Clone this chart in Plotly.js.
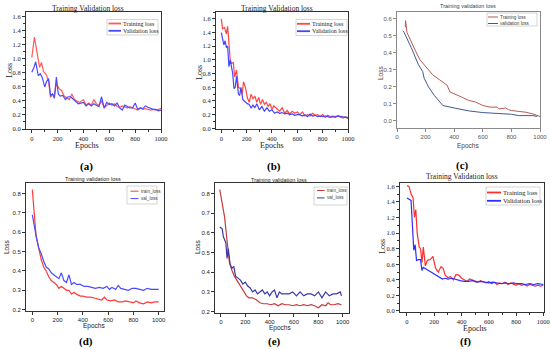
<!DOCTYPE html>
<html><head><meta charset="utf-8">
<script src="https://cdn.plot.ly/plotly-3.0.1.min.js"></script>
<style>html,body{margin:0;padding:0;background:#fff}#c{width:550px;height:350px}</style>
</head><body><div id="c"></div>
<script>
// ---- panel (a)
const aTrainX = [0,20,40,60,75,90,110,130,145,160,175,190,210,230,250,270,290,310,330,350,370,400,420,440,460,480,500,520,540,560,580,600,620,640,660,680,700,720,740,760,780,800,820,840,860,880,900,920,940,960,980,1000];
const aTrain  = [1.02,1.31,1.1,0.88,0.95,0.82,0.78,0.68,0.45,0.5,0.48,0.65,0.58,0.55,0.47,0.45,0.42,0.5,0.42,0.4,0.38,0.42,0.34,0.37,0.34,0.42,0.36,0.34,0.4,0.3,0.34,0.37,0.34,0.36,0.32,0.31,0.33,0.32,0.3,0.32,0.3,0.29,0.27,0.3,0.28,0.29,0.28,0.27,0.28,0.27,0.28,0.29];
const aValX   = [0,15,30,50,65,80,100,115,130,145,160,175,190,205,220,240,260,280,300,320,340,360,380,400,420,440,460,480,500,520,540,560,580,600,620,640,660,680,700,720,740,760,780,800,820,840,860,880,900,920,940,960,980,1000];
const aVal    = [0.81,0.87,0.96,0.76,0.79,0.74,0.6,0.68,0.72,0.48,0.5,0.44,0.74,0.5,0.47,0.48,0.42,0.46,0.46,0.43,0.39,0.36,0.37,0.38,0.33,0.36,0.33,0.36,0.34,0.32,0.46,0.3,0.38,0.35,0.36,0.33,0.37,0.3,0.27,0.34,0.32,0.3,0.3,0.37,0.28,0.3,0.29,0.33,0.31,0.29,0.28,0.28,0.26,0.27];
// ---- panel (b)
const bTrainX = [0,10,25,40,50,60,70,80,95,105,120,135,150,165,175,190,205,220,235,250,265,280,295,310,325,340,355,370,385,400,415,430,445,460,480,500,520,540,560,580,600,620,640,660,680,700,720,740,760,780,800,820,840,860,880,900,920,940,960,980,1000];
const bTrain  = [1.6,1.45,1.48,1.38,1.49,1.3,1.0,0.95,0.96,0.75,0.85,0.6,0.58,0.5,0.68,0.6,0.45,0.38,0.5,0.43,0.47,0.38,0.45,0.35,0.42,0.35,0.38,0.32,0.36,0.28,0.33,0.3,0.27,0.25,0.3,0.22,0.26,0.21,0.25,0.22,0.24,0.2,0.24,0.18,0.2,0.18,0.22,0.19,0.2,0.17,0.2,0.16,0.19,0.17,0.18,0.17,0.18,0.16,0.15,0.17,0.14];
const bValX   = [0,10,20,30,40,50,60,70,80,90,100,110,120,135,145,155,170,190,205,220,235,250,265,280,300,320,340,360,380,400,420,440,460,480,500,520,540,560,580,600,620,640,660,680,700,720,740,760,780,800,820,840,860,880,900,920,940,960,980,1000];
const bVal    = [1.4,1.3,1.22,1.28,1.18,1.2,0.9,1.0,0.9,0.8,0.58,0.6,0.76,0.5,0.48,0.6,0.42,0.38,0.36,0.35,0.3,0.34,0.3,0.36,0.27,0.32,0.25,0.3,0.25,0.27,0.22,0.24,0.22,0.23,0.21,0.22,0.2,0.21,0.19,0.2,0.2,0.18,0.2,0.17,0.21,0.18,0.19,0.17,0.18,0.17,0.18,0.17,0.16,0.17,0.16,0.18,0.17,0.17,0.16,0.16];
// ---- panel (c)
const cTrainX = [58,60,70,100,130,160,190,220,250,300,350,370,400,450,500,550,600,650,700,710,720,760,780,800,850,900,950,1000];
const cTrain  = [0.55,0.59,0.52,0.46,0.41,0.36,0.33,0.3,0.27,0.24,0.21,0.17,0.16,0.14,0.12,0.11,0.09,0.08,0.08,0.07,0.07,0.075,0.065,0.06,0.055,0.05,0.04,0.025];
const cValX   = [42,50,100,150,180,190,220,260,300,320,400,500,600,700,800,850,900,950,980];
const cVal    = [0.53,0.52,0.43,0.33,0.29,0.25,0.2,0.15,0.11,0.09,0.075,0.058,0.048,0.042,0.038,0.03,0.032,0.03,0.025];
// ---- panel (d)
const dTrainX = [0,10,20,30,50,70,90,110,130,150,170,190,210,230,250,270,290,310,330,350,380,400,430,460,490,520,550,570,590,620,650,680,710,740,770,800,820,850,880,910,940,970,1000];
const dTrain  = [0.82,0.75,0.66,0.58,0.52,0.46,0.42,0.4,0.37,0.35,0.34,0.33,0.31,0.32,0.31,0.3,0.3,0.28,0.29,0.28,0.27,0.27,0.265,0.265,0.26,0.255,0.25,0.265,0.25,0.245,0.25,0.24,0.24,0.245,0.24,0.235,0.245,0.235,0.23,0.24,0.235,0.24,0.24];
const dValX   = [0,10,30,50,70,90,110,130,150,170,190,210,230,250,270,290,310,330,350,380,410,440,470,500,530,560,590,610,630,660,680,700,730,760,790,820,850,880,910,940,970,1000];
const dVal    = [0.69,0.65,0.58,0.52,0.49,0.45,0.42,0.41,0.39,0.38,0.37,0.36,0.39,0.35,0.34,0.38,0.33,0.34,0.33,0.33,0.32,0.32,0.315,0.31,0.315,0.31,0.32,0.305,0.315,0.305,0.325,0.31,0.305,0.3,0.31,0.31,0.305,0.3,0.31,0.305,0.305,0.305];
// ---- panel (e)
const eTrainX = [-10,10,30,50,70,90,110,130,150,170,190,210,230,260,290,320,350,380,410,440,470,500,530,560,590,620,650,680,710,740,770,800,830,860,880,900,930,960,990];
const eTrain  = [0.82,0.74,0.68,0.56,0.45,0.41,0.38,0.36,0.34,0.32,0.3,0.28,0.27,0.27,0.26,0.245,0.24,0.24,0.235,0.24,0.23,0.24,0.235,0.235,0.23,0.235,0.23,0.235,0.23,0.235,0.23,0.22,0.235,0.23,0.245,0.235,0.235,0.24,0.235];
const eValX   = [-10,10,20,40,50,60,75,90,105,120,140,160,180,200,220,240,260,280,300,320,340,360,380,400,420,440,460,480,500,530,560,590,620,650,680,710,740,770,800,830,860,890,920,950,980,990];
const eVal    = [0.63,0.62,0.58,0.55,0.47,0.52,0.44,0.42,0.43,0.38,0.37,0.36,0.34,0.35,0.33,0.32,0.3,0.31,0.29,0.3,0.31,0.29,0.3,0.28,0.3,0.31,0.27,0.3,0.29,0.29,0.29,0.3,0.28,0.3,0.28,0.29,0.29,0.28,0.3,0.27,0.3,0.28,0.29,0.29,0.3,0.28];
// ---- panel (f)
const fTrainX = [0,15,30,45,55,65,75,90,100,110,120,135,150,170,190,210,230,250,265,280,300,320,340,360,380,400,420,440,460,480,500,520,540,560,580,600,620,640,660,680,700,720,740,760,780,800,820,840,860,880,900,920,940,960,980,1000];
const fTrain  = [1.61,1.6,1.5,1.45,1.2,1.3,1.0,0.82,0.8,0.62,0.82,0.58,0.65,0.66,0.7,0.55,0.5,0.57,0.55,0.46,0.43,0.44,0.4,0.47,0.46,0.42,0.4,0.38,0.41,0.4,0.38,0.37,0.39,0.38,0.36,0.38,0.35,0.37,0.34,0.36,0.35,0.37,0.34,0.36,0.34,0.33,0.35,0.33,0.34,0.32,0.34,0.33,0.32,0.33,0.32,0.33];
const fValX   = [0,15,30,40,50,60,70,85,100,110,120,140,160,180,200,220,240,260,280,300,330,360,390,420,450,480,510,540,570,600,630,660,690,720,750,780,810,840,870,900,930,960,1000];
const fVal    = [1.45,1.43,1.42,1.1,0.78,0.85,0.65,0.66,0.66,0.52,0.56,0.54,0.52,0.5,0.48,0.46,0.43,0.41,0.42,0.41,0.42,0.4,0.39,0.38,0.38,0.39,0.37,0.38,0.37,0.36,0.37,0.36,0.35,0.36,0.35,0.36,0.35,0.35,0.34,0.35,0.34,0.35,0.34];

const panelLabels = ['(a)','(b)','(c)','(d)','(e)','(f)'];
const panelTitles = ['Training Validation loss','Training Validation loss','Training validation loss','Training validation loss','Training validation loss','Training Validation loss'];
const legendNames = [['Training loss','Validation loss'],['Training loss','Validation loss'],['Training loss','validation loss'],['train_loss','val_loss'],['train_loss','val_loss'],['Training loss','Validation loss']];

const SERIF = 'Liberation Serif, Times New Roman, serif';
const SANS = 'Liberation Sans, Arial, sans-serif';
const W = 550, H = 350;
const px = v => v / W, py = v => 1 - v / H;

// panel geometry in pixels: [left, right, top, bottom]
const geo = [[26,161,12,129],[216,348,12,129],[397,540,12,128],[26,164,183,311],[215,349,183,313],[400,544,183,312]];
const xr = [[-45,1000],[-42,1000],[0,1000],[-50,1042],[-49,1052],[-51,1005]];
const yr = [[0,1.67],[-0.01,1.7],[-0.043,0.641],[0.193,0.854],[0.193,0.853],[-0.013,1.643]];
const ydt = [0.2,0.2,0.1,0.1,0.1,0.2];
const fonts = [SERIF,SERIF,SANS,SANS,SANS,SERIF];
const colors = [['#ff5a5a','#4a4aff'],['#ff4545','#4545ff'],['#b55a55','#3f5a95'],['#ff3a3a','#4a4aff'],['#c83a3a','#3a3aa8'],['#ff2e2e','#2e2eff']];
const series = [[aTrainX,aTrain,aValX,aVal],[bTrainX,bTrain,bValX,bVal],[cTrainX,cTrain,cValX,cVal],[dTrainX,dTrain,dValX,dVal],[eTrainX,eTrain,eValX,eVal],[fTrainX,fTrain,fValX,fVal]];
// legend box [left, right, top, bottom, lineStart, lineEnd, y1, y2, fontSize]
const legBox = [[107,158,19.5,35,108.5,121,23.5,30.8,6],[296,347,19.5,35.5,297,310,23.8,31.2,6],[487,537,13,26,488,498,17,23.5,4.6],[127,157,186,204,130.5,138.5,191.2,198.6,4.6],[314,347,187,205,317,324.5,190.5,197.9,4.6],[486,540,187,205,487,501,192.5,200.8,6.6]];
const labelPos = [[86,166],[274,166],[462,165],[86,341],[274,341],[465,341]];
const titlePos = [[88,9],[277,9],[468,6],[93,179],[279,180],[462,176]];
const epochPos = [[87,145],[272,145],[468,146],[94,326],[280,328],[475,328]];
const lossPos = [[9,71],[199,73],[380,73],[6,247],[197,247],[382,247]];

const data = [], layout = {width:W, height:H, margin:{l:0,r:0,t:0,b:0}, paper_bgcolor:'#fff', plot_bgcolor:'#fff', showlegend:false, annotations:[], shapes:[]};

for (let i = 0; i < 6; i++) {
  const n = i === 0 ? '' : String(i+1);
  const [l,r,t,b] = geo[i];
  const serif = fonts[i] === SERIF;
  const axCol = i === 2 ? '#8a8a8a' : '#333';
  const tickCol = i === 2 ? '#555' : '#222';
  const tfs = serif ? 6.5 : 6;
  const common = {showline:true, mirror:true, linecolor:axCol, linewidth:1, ticks:'outside', ticklen:3, tickcolor:axCol, showgrid:false, zeroline:false, tickfont:{family:fonts[i], size:tfs, color:tickCol}};
  layout['xaxis'+n] = Object.assign({}, common, {domain:[px(l),px(r)], range:xr[i], anchor:'y'+n, tickvals:[0,200,400,600,800,1000], minor: serif ? {ticks:'outside', ticklen:2, dtick:100, tick0:0, tickcolor:axCol} : undefined});
  layout['yaxis'+n] = Object.assign({}, common, {domain:[py(b),py(t)], range:yr[i], anchor:'x'+n, dtick:ydt[i], tick0:0, tickformat:'.1f', minor: serif ? {ticks:'outside', ticklen:2, dtick:ydt[i]/2, tick0:0, tickcolor:axCol} : undefined});
  const s = series[i];
  const lw = i === 2 ? 1 : 1.2;
  data.push({type:'scatter', mode:'lines', x:s[0], y:s[1], name:legendNames[i][0], xaxis:'x'+n, yaxis:'y'+n, line:{color:colors[i][0], width:lw}});
  data.push({type:'scatter', mode:'lines', x:s[2], y:s[3], name:legendNames[i][1], xaxis:'x'+n, yaxis:'y'+n, line:{color:colors[i][1], width:lw}});
  // legend (drawn as a box with sample lines and labels)
  const [bl,br,bt,bb,ls,le,ly1,ly2,lfs] = legBox[i];
  layout.shapes.push({type:'rect', xref:'paper', yref:'paper', x0:px(bl), x1:px(br), y0:py(bb), y1:py(bt), line:{color:'#bbb', width:0.6}, fillcolor:'#fff'});
  const slw = serif ? 1.8 : 1;
  layout.shapes.push({type:'line', xref:'paper', yref:'paper', x0:px(ls), x1:px(le), y0:py(ly1), y1:py(ly1), line:{color:colors[i][0], width:slw}});
  layout.shapes.push({type:'line', xref:'paper', yref:'paper', x0:px(ls), x1:px(le), y0:py(ly2), y1:py(ly2), line:{color:colors[i][1], width:slw}});
  const lcol = serif ? '#222' : '#444';
  layout.annotations.push({text:legendNames[i][0], x:px(le+1), y:py(ly1), xref:'paper', yref:'paper', showarrow:false, xanchor:'left', yanchor:'middle', borderpad:0, font:{family:fonts[i], size:lfs, color:lcol}});
  layout.annotations.push({text:legendNames[i][1], x:px(le+1), y:py(ly2), xref:'paper', yref:'paper', showarrow:false, xanchor:'left', yanchor:'middle', borderpad:0, font:{family:fonts[i], size:lfs, color:lcol}});
  const tcol = i === 2 ? '#444' : '#222';
  layout.annotations.push({text:panelTitles[i], x:px(titlePos[i][0]), y:py(titlePos[i][1]), xref:'paper', yref:'paper', showarrow:false, xanchor:'center', yanchor:'middle', borderpad:0, font:{family:fonts[i], size: serif ? 7.5 : 5.5, color:tcol}});
  layout.annotations.push({text:'Epochs', x:px(epochPos[i][0]), y:py(epochPos[i][1]), xref:'paper', yref:'paper', showarrow:false, xanchor:'center', yanchor:'middle', borderpad:0, font:{family:fonts[i], size: serif ? 8 : 6.5, color:tcol}});
  layout.annotations.push({text:'Loss', x:px(lossPos[i][0]), y:py(lossPos[i][1]), xref:'paper', yref:'paper', showarrow:false, textangle:-90, xanchor:'center', yanchor:'middle', borderpad:0, font:{family:fonts[i], size: serif ? 8 : 6.5, color:tcol}});
  layout.annotations.push({text:'<b>'+panelLabels[i]+'</b>', x:px(labelPos[i][0]), y:py(labelPos[i][1]), xref:'paper', yref:'paper', showarrow:false, xanchor:'center', yanchor:'middle', borderpad:0, font:{family:SERIF, size:11, color:'#000'}});
}

Plotly.newPlot('c', data, layout, {staticPlot:true, displayModeBar:false});
</script></body></html>
